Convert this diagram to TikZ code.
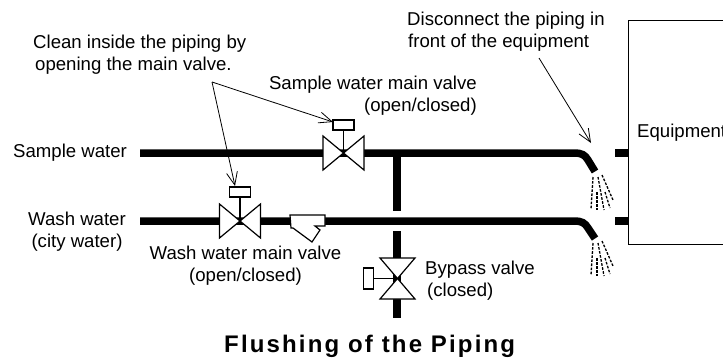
\documentclass[tikz,border=0pt]{standalone}
\usepackage{fontspec}
\setmainfont{Liberation Sans}
\usetikzlibrary{arrows.meta}
\tikzset{
 x=1pt,y=-1pt,
 pipe/.style={line width=7.5pt,black},
 sym/.style={draw=black,line width=1.2pt,fill=white,line join=miter},
 lead/.style={draw=black,line width=0.8pt,-{Straight Barb[length=13pt,width=11pt,line width=0.8pt]}},
 lbl/.style={font=\fontsize{18.6pt}{22.3pt}\selectfont,align=center,inner sep=0pt},
 spray/.style={draw=black,line width=1.3pt,dash pattern=on 2.6pt off 1.5pt},
 point/.style={inner sep=0pt,minimum size=0pt}
}
\newcommand{\sprayfrom}[2]{%
 \begin{scope}[shift={(#1,#2)}]
 \draw[spray] (-2,0) -- (-4,32);
 \draw[spray] (3,0) -- (9,33);
 \draw[spray] (7,-2) -- (18,23);
 \draw[spray] (2,15) -- (2,33);
 \draw[spray] (10,15) -- (15,31);
 \end{scope}}
\begin{document}
\begin{tikzpicture}
\useasboundingbox (0,0) rectangle (723,360);
\begin{scope}
\clip (0,0) rectangle (723,360);
\draw[line width=1pt] (730,20.5) -| (628.5,244.5) -- (730,244.5);
\node[lbl,anchor=west] (eq) at (637,133) {Equipment};
\end{scope}
% pipes
\draw[pipe] (140,153) -- (574,153) .. controls (582,153) and (585,155) .. (588,160) -- (595,171.5);
\draw[pipe] (140,221) -- (574,221) .. controls (582,221) and (585,223) .. (588,228) -- (595,238.5);
\draw[pipe] (615,153) -- (629,153);
\draw[pipe] (615,221) -- (629,221);
% bypass
\draw[pipe] (397,153) -- (397,211);
\draw[pipe] (397,231) -- (397,318);
% sample valve
\node[point] (sv) at (343.5,153) {};
\draw[sym] (323,136) -- (364,170) -- (364,136) -- (323,170) -- cycle;
\draw[sym] (343.5,153) -- (343.5,130);
\draw[sym] (333,120) rectangle (354,130);
% wash valve
\node[point] (wv) at (240,221) {};
\draw[sym] (219.5,204) -- (260.5,238) -- (260.5,204) -- (219.5,238) -- cycle;
\draw[sym] (240,221) -- (240,197);
\draw[sym] (229.5,187) rectangle (250.5,197);
% strainer
\draw[sym] (290,215) -- (325,215) -- (325,226) -- (315,226) -- (320,230) -- (312,242) -- (293,228) -- (291,228) -- cycle;
% bypass valve
\draw[sym] (380,258) -- (415,258) -- (380,299) -- (415,299) -- cycle;
\draw[sym] (397.5,278.5) -- (374,278.5);
\draw[sym] (363.5,268) rectangle (373.5,289);
% sprays
\sprayfrom{595}{177}
\sprayfrom{595}{243}
% labels
\node[lbl,anchor=west] (s) at (13,153) {Sample water};
\node[lbl] (w) at (77,232) {Wash water\\(city water)};
\node[lbl,align=left,anchor=west] (c) at (33,54.5) {Clean inside the piping by\\\hspace*{2pt}opening the main valve.};
\node[lbl,align=right,anchor=east] (m) at (477,96) {Sample water main valve\\(open/closed)};
\node[lbl] (n) at (245.5,266) {Wash water main valve\\(open/closed)};
\node[lbl,align=left,anchor=west] (b) at (425,281) {Bypass valve\\\hspace*{2pt}(closed)};
\node[lbl,align=left,anchor=west] (d) at (407,31.5) {Disconnect the piping in\\\hspace*{1pt}front of the equipment};
\node[font=\bfseries\fontsize{24pt}{26pt}\selectfont\addfontfeature{LetterSpace=9},inner sep=0pt,anchor=base west] (t) at (224,352.5) {Flushing of the Piping};
% leaders
\coordinate (c1) at (212,82);
\coordinate (d1) at (539,58);
\draw[lead] (c1) -- (235,186);
\draw[lead] (c1) -- (333,122);
\draw[lead] (d1) -- (591,143);
\end{tikzpicture}
\end{document}
